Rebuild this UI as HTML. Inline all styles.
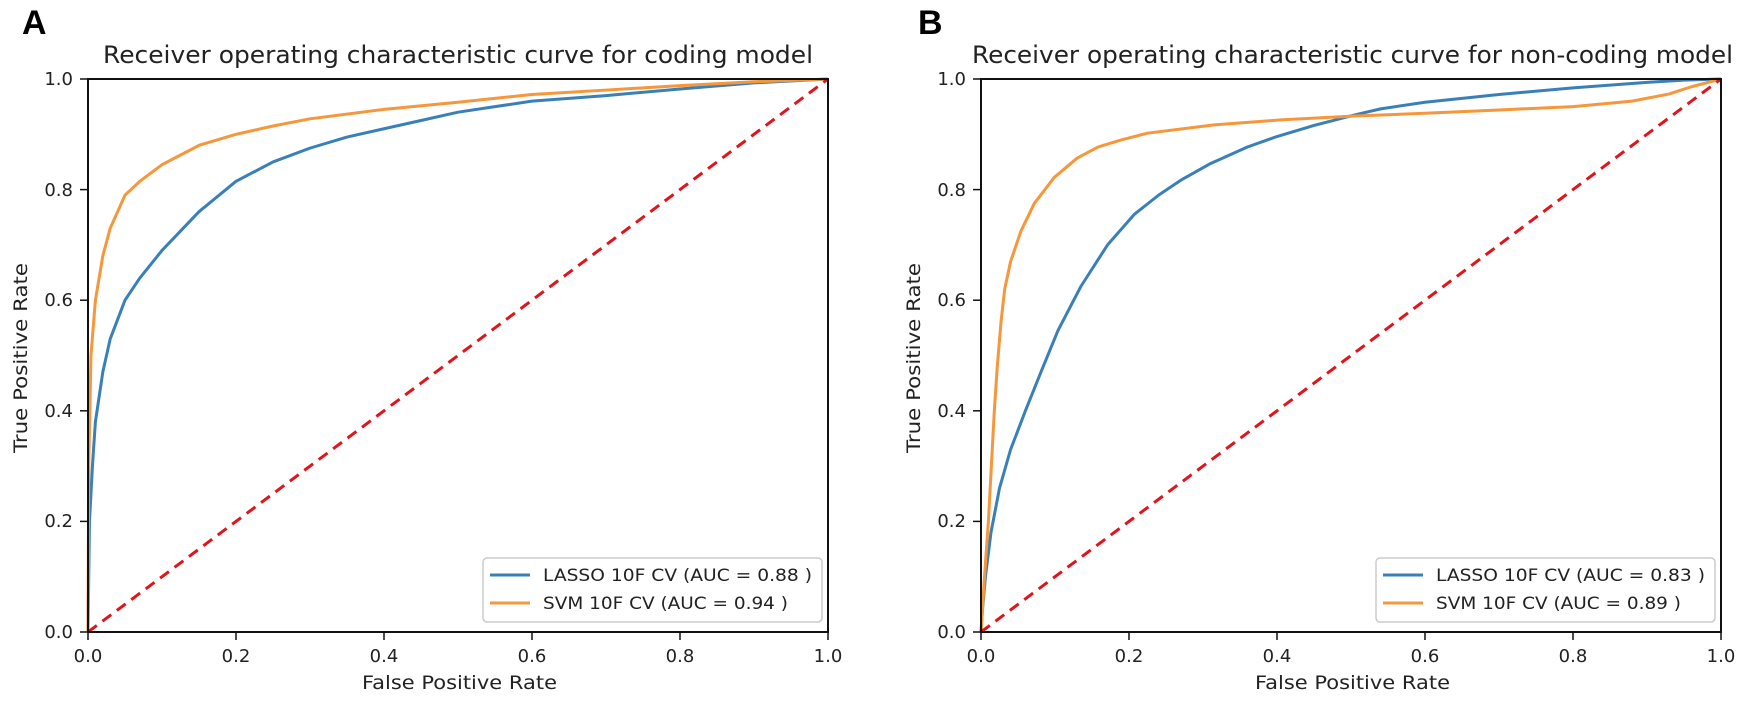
<!DOCTYPE html><html><head><style>body{margin:0;background:#fff}svg text{font-family:"DejaVu Sans","Liberation Sans",sans-serif;fill:#222}</style></head><body>
<svg width="1748" height="702" xmlns="http://www.w3.org/2000/svg">
<text x="22" y="34" style="font:bold 34px 'Liberation Sans',sans-serif;fill:#000">A</text>
<text x="918" y="34" style="font:bold 34px 'Liberation Sans',sans-serif;fill:#000">B</text>
<g id="L">
<text x="103" y="63" font-size="24" textLength="710" lengthAdjust="spacingAndGlyphs">Receiver operating characteristic curve for coding model</text>
<g transform="translate(88,632) scale(740,-553)" fill="none" stroke-linejoin="round">
<polyline vector-effect="non-scaling-stroke" stroke="#3a80b8" stroke-width="3" points="0,0 0.002,0.2 0.006,0.3 0.01,0.38 0.02,0.47 0.03,0.53 0.05,0.6 0.07,0.64 0.1,0.69 0.15,0.76 0.2,0.815 0.25,0.85 0.3,0.875 0.35,0.895 0.4,0.91 0.45,0.925 0.5,0.94 0.55,0.95 0.6,0.96 0.7,0.97 0.8,0.982 0.9,0.993 1,1"/>
<polyline vector-effect="non-scaling-stroke" stroke="#f5973a" stroke-width="3" points="0,0 0.001,0.3 0.004,0.5 0.01,0.6 0.02,0.68 0.03,0.73 0.05,0.79 0.07,0.815 0.1,0.845 0.15,0.88 0.2,0.9 0.25,0.915 0.3,0.928 0.4,0.945 0.5,0.958 0.6,0.972 0.7,0.98 0.8,0.988 0.9,0.995 1,1"/>
</g>
<line x1="88" y1="632" x2="828" y2="79" stroke="#e0141c" stroke-width="3" stroke-dasharray="11,7"/>
<rect x="88" y="79" width="740" height="553" fill="none" stroke="#111" stroke-width="2"/>
<g stroke="#111" stroke-width="1.5">
<line x1="88" y1="632" x2="88" y2="640"/><line x1="236" y1="632" x2="236" y2="640"/><line x1="384" y1="632" x2="384" y2="640"/><line x1="532" y1="632" x2="532" y2="640"/><line x1="680" y1="632" x2="680" y2="640"/><line x1="828" y1="632" x2="828" y2="640"/>
<line x1="80" y1="632" x2="88" y2="632"/><line x1="80" y1="521.4" x2="88" y2="521.4"/><line x1="80" y1="410.8" x2="88" y2="410.8"/><line x1="80" y1="300.2" x2="88" y2="300.2"/><line x1="80" y1="189.6" x2="88" y2="189.6"/><line x1="80" y1="79" x2="88" y2="79"/>
</g>
<g font-size="18" text-anchor="middle">
<text x="88" y="662">0.0</text><text x="236" y="662">0.2</text><text x="384" y="662">0.4</text><text x="532" y="662">0.6</text><text x="680" y="662">0.8</text><text x="828" y="662">1.0</text>
</g>
<g font-size="18" text-anchor="end">
<text x="73" y="638">0.0</text><text x="73" y="527">0.2</text><text x="73" y="417">0.4</text><text x="73" y="306">0.6</text><text x="73" y="196">0.8</text><text x="73" y="85">1.0</text>
</g>
<text x="362" y="689" font-size="19" textLength="195" lengthAdjust="spacingAndGlyphs">False Positive Rate</text>
<text transform="translate(27,453) rotate(-90)" font-size="19" textLength="190" lengthAdjust="spacingAndGlyphs">True Positive Rate</text>
<rect x="483" y="558" width="339" height="64" rx="4" fill="#fff" fill-opacity="0.85" stroke="#ccc" stroke-width="1.5"/>
<line x1="490" y1="575" x2="530" y2="575" stroke="#3a80b8" stroke-width="3"/>
<line x1="490" y1="603" x2="530" y2="603" stroke="#f5973a" stroke-width="3"/>
<text x="543" y="581" font-size="17" textLength="269" lengthAdjust="spacingAndGlyphs">LASSO 10F CV (AUC = 0.88 )</text>
<text x="543" y="609" font-size="17" textLength="245" lengthAdjust="spacingAndGlyphs">SVM 10F CV (AUC = 0.94 )</text>
</g>
<g transform="translate(893,0)">
<text x="79" y="63" font-size="24" textLength="761" lengthAdjust="spacingAndGlyphs">Receiver operating characteristic curve for non-coding model</text>
<g transform="translate(88,632) scale(740,-553)" fill="none" stroke-linejoin="round">
<polyline vector-effect="non-scaling-stroke" stroke="#3a80b8" stroke-width="3" points="0,0 0.002,0.04 0.006,0.1 0.0135,0.18 0.025,0.26 0.04,0.33 0.06,0.4 0.081,0.47 0.104,0.545 0.135,0.625 0.171,0.7 0.207,0.755 0.24,0.79 0.27,0.817 0.31,0.847 0.36,0.877 0.4,0.896 0.45,0.916 0.505,0.935 0.54,0.946 0.6,0.958 0.7,0.972 0.8,0.984 0.9,0.994 0.95,0.998 1,1"/>
<polyline vector-effect="non-scaling-stroke" stroke="#f5973a" stroke-width="3" points="0,0 0.0045,0.096 0.01,0.2 0.014,0.3 0.018,0.4 0.022,0.48 0.027,0.56 0.032,0.62 0.04,0.67 0.054,0.725 0.072,0.775 0.099,0.822 0.13,0.857 0.158,0.877 0.19,0.89 0.225,0.902 0.315,0.917 0.405,0.926 0.505,0.933 0.6,0.938 0.7,0.944 0.8,0.95 0.88,0.96 0.93,0.973 0.96,0.986 1,1"/>
</g>
<line x1="88" y1="632" x2="828" y2="79" stroke="#e0141c" stroke-width="3" stroke-dasharray="11,7"/>
<rect x="88" y="79" width="740" height="553" fill="none" stroke="#111" stroke-width="2"/>
<g stroke="#111" stroke-width="1.5">
<line x1="88" y1="632" x2="88" y2="640"/><line x1="236" y1="632" x2="236" y2="640"/><line x1="384" y1="632" x2="384" y2="640"/><line x1="532" y1="632" x2="532" y2="640"/><line x1="680" y1="632" x2="680" y2="640"/><line x1="828" y1="632" x2="828" y2="640"/>
<line x1="80" y1="632" x2="88" y2="632"/><line x1="80" y1="521.4" x2="88" y2="521.4"/><line x1="80" y1="410.8" x2="88" y2="410.8"/><line x1="80" y1="300.2" x2="88" y2="300.2"/><line x1="80" y1="189.6" x2="88" y2="189.6"/><line x1="80" y1="79" x2="88" y2="79"/>
</g>
<g font-size="18" text-anchor="middle">
<text x="88" y="662">0.0</text><text x="236" y="662">0.2</text><text x="384" y="662">0.4</text><text x="532" y="662">0.6</text><text x="680" y="662">0.8</text><text x="828" y="662">1.0</text>
</g>
<g font-size="18" text-anchor="end">
<text x="73" y="638">0.0</text><text x="73" y="527">0.2</text><text x="73" y="417">0.4</text><text x="73" y="306">0.6</text><text x="73" y="196">0.8</text><text x="73" y="85">1.0</text>
</g>
<text x="362" y="689" font-size="19" textLength="195" lengthAdjust="spacingAndGlyphs">False Positive Rate</text>
<text transform="translate(27,453) rotate(-90)" font-size="19" textLength="190" lengthAdjust="spacingAndGlyphs">True Positive Rate</text>
<rect x="483" y="558" width="339" height="64" rx="4" fill="#fff" fill-opacity="0.85" stroke="#ccc" stroke-width="1.5"/>
<line x1="490" y1="575" x2="530" y2="575" stroke="#3a80b8" stroke-width="3"/>
<line x1="490" y1="603" x2="530" y2="603" stroke="#f5973a" stroke-width="3"/>
<text x="543" y="581" font-size="17" textLength="269" lengthAdjust="spacingAndGlyphs">LASSO 10F CV (AUC = 0.83 )</text>
<text x="543" y="609" font-size="17" textLength="245" lengthAdjust="spacingAndGlyphs">SVM 10F CV (AUC = 0.89 )</text>
</g>
</svg>
</body></html>
